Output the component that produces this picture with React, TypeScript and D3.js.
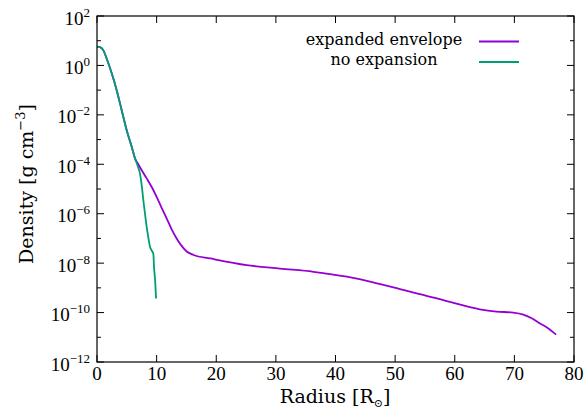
import React from "react";
import * as d3 from "d3";

const expandedR = [0, 0.5, 1.05, 1.6, 2.47, 3.3, 4.14, 4.98, 5.82, 6.4, 6.8, 7.5, 8.33, 9.2, 10.0, 10.8, 11.68, 12.5, 13.36, 14.1, 15.0, 16.2, 19, 25.1, 30.7, 36.3, 41.9, 47.5, 50.8, 55, 59.2, 64.2, 67, 69.8, 71.5, 73, 74.3, 75.7, 77];
const expandedLogRho = [0.76, 0.74, 0.62, 0.29, -0.32, -1.0, -1.81, -2.62, -3.29, -3.78, -3.95, -4.24, -4.57, -4.93, -5.32, -5.74, -6.19, -6.62, -7.0, -7.27, -7.52, -7.67, -7.81, -8.08, -8.22, -8.35, -8.55, -8.85, -9.05, -9.3, -9.57, -9.87, -9.96, -10.0, -10.08, -10.24, -10.44, -10.64, -10.89];
const noExpR = [0, 0.5, 1.05, 1.6, 2.47, 3.3, 4.14, 4.98, 5.82, 6.4, 6.8, 7.2, 7.5, 7.77, 8.05, 8.33, 8.6, 8.89, 9.2, 9.45, 9.56, 9.78, 9.9];
const noExpLogRho = [0.76, 0.74, 0.62, 0.29, -0.32, -1.0, -1.81, -2.62, -3.29, -3.78, -4.05, -4.37, -4.85, -5.45, -6.0, -6.53, -6.95, -7.34, -7.5, -7.62, -8.15, -8.82, -9.43];
const xTicks = [0, 10, 20, 30, 40, 50, 60, 70, 80];
const yTickExps = [2, 0, -2, -4, -6, -8, -10, -12];
const yMinorExps = [1, -1, -3, -5, -7, -9, -11];
const seriesNames = ["expanded envelope", "no expansion"];
const seriesColors = ["#9400d3", "#009e73"];

const W = 584, H = 412;
const left = 97, right = 574, top = 16, bottom = 362;
const tickFont = "'Liberation Serif', 'DejaVu Serif', serif";
const titleFont = "'DejaVu Serif', serif";

export default function App() {
  const x = d3.scaleLinear().domain([0, 80]).range([left, right]);
  const y = d3.scaleLinear().domain([-12, 2]).range([bottom, top]);
  const line = d3.line<[number, number]>().x(d => x(d[0])).y(d => y(d[1])).curve(d3.curveMonotoneX);
  const series = [
    expandedR.map((r, i) => [r, expandedLogRho[i]] as [number, number]),
    noExpR.map((r, i) => [r, noExpLogRho[i]] as [number, number]),
  ];
  const major = 7, minor = 4;
  return (
    <svg width={W} height={H} style={{ position: "absolute", left: 0, top: 0, background: "#fff" }}>
      <rect x={0} y={0} width={W} height={H} fill="#fff" />
      {series.map((s, i) => (
        <path key={i} d={line(s) || ""} fill="none" stroke={seriesColors[i]} strokeWidth={1.8} />
      ))}
      <rect x={left} y={top} width={right - left} height={bottom - top} fill="none" stroke="#000" strokeWidth={1.2} />
      {xTicks.map(t => (
        <g key={"x" + t}>
          <line x1={x(t)} x2={x(t)} y1={bottom} y2={bottom - major} stroke="#000" />
          <line x1={x(t)} x2={x(t)} y1={top} y2={top + major} stroke="#000" />
          <text x={x(t)} y={380} textAnchor="middle" fontFamily={tickFont} fontSize={19}>{t}</text>
        </g>
      ))}
      {yTickExps.map(e => (
        <g key={"y" + e}>
          <line x1={left} x2={left + major} y1={y(e)} y2={y(e)} stroke="#000" />
          <line x1={right} x2={right - major} y1={y(e)} y2={y(e)} stroke="#000" />
          <text x={90} y={y(e) + 8.5} textAnchor="end" fontFamily={tickFont} fontSize={19}>
            10<tspan dy={-8} fontSize={13}>{e < 0 ? "\u2212" + Math.abs(e) : String(e)}</tspan>
          </text>
        </g>
      ))}
      {yMinorExps.map(e => (
        <g key={"m" + e}>
          <line x1={left} x2={left + minor} y1={y(e)} y2={y(e)} stroke="#000" />
          <line x1={right} x2={right - minor} y1={y(e)} y2={y(e)} stroke="#000" />
        </g>
      ))}
      <text x={335} y={403} textAnchor="middle" fontFamily={titleFont} fontSize={19}>
        Radius [R<tspan dy={4} fontSize={11}>{"\u2299"}</tspan><tspan dy={-4}>]</tspan>
      </text>
      <text transform={`translate(33,184) rotate(-90)`} textAnchor="middle" fontFamily={titleFont} fontSize={19}>
        Density [g cm<tspan dy={-8} fontSize={13}>{"\u22123"}</tspan><tspan dy={8}>]</tspan>
      </text>
      {seriesNames.map((n, i) => (
        <g key={n}>
          <text x={384} y={45 + i * 20} textAnchor="middle" fontFamily={titleFont} fontSize={16}>{n}</text>
          <line x1={479} x2={519} y1={41.5 + i * 20.5} y2={41.5 + i * 20.5} stroke={seriesColors[i]} strokeWidth={1.8} />
        </g>
      ))}
    </svg>
  );
}
